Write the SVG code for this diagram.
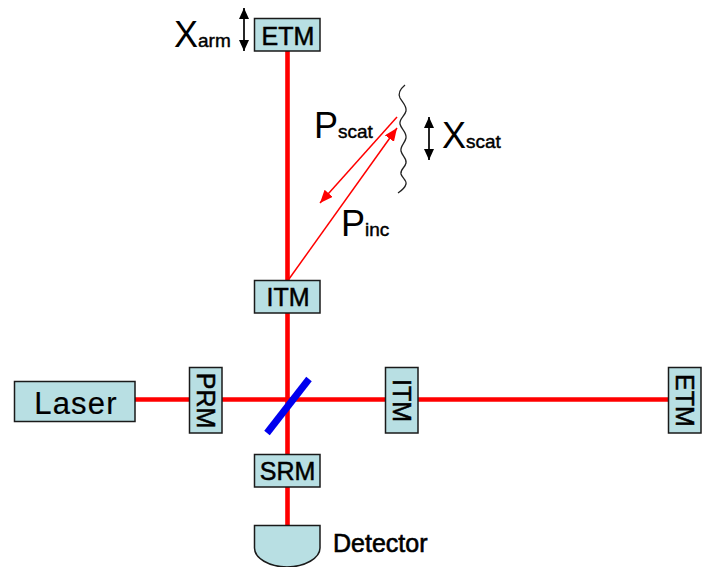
<svg xmlns="http://www.w3.org/2000/svg" width="709" height="567" viewBox="0 0 709 567">
<style>
.box{fill:#b8dfe3;stroke:#1a1a1a;stroke-width:1.5}
.t{font-family:"Liberation Sans",Arial,sans-serif;fill:#000;stroke:#000;stroke-width:.5;text-anchor:middle}
.m{font-size:25px}
.l{font-family:"Liberation Sans",Arial,sans-serif;fill:#000}
.s{font-size:19px;stroke:#000;stroke-width:.45}
.beam{stroke:#ff0000;stroke-width:4.6;fill:none}
.ray{stroke:#ff0000;stroke-width:1.5;fill:none}
.dbl{stroke:#000;stroke-width:1.7;fill:none;marker-start:url(#ka);marker-end:url(#ka)}
</style>
<defs>
<marker id="ra" markerUnits="userSpaceOnUse" markerWidth="14" markerHeight="12" refX="13" refY="5.500" orient="auto"><path d="M0 0L13 5.500L0 11Z" fill="#ff0000"/></marker>
<marker id="ka" markerUnits="userSpaceOnUse" markerWidth="12" markerHeight="12" refX="11" refY="5" orient="auto-start-reverse"><path d="M0 0L11 5L0 10Z" fill="#000"/></marker>
</defs>
<g id="connectors">
<path class="beam" d="M287.500 51V525"/>
<path class="beam" d="M135 399.500H668"/>
<path class="ray" d="M289 279L397 128" marker-end="url(#ra)"/>
<path class="ray" d="M397 117L320 203" marker-end="url(#ra)"/>
<path class="dbl" d="M244 8V51"/>
<path class="dbl" d="M429 117V160"/>
</g>
<g id="scatterer"><path d="M405 85C399 90 398 94 400 98C403 103 407 106 406 111C405 116 399 119 400 124C401 129 407 132 406 138C405 143 400 146 401 151C402 156 407 158 406 163C405 168 400 169 401 174C402 178 407 180 406 184C405 188 401 191 398 193" fill="none" stroke="#222" stroke-width="1.3"/></g>
<g id="beamsplitter"><path d="M267 433L309 379" stroke="#0000ee" stroke-width="7" fill="none"/></g>
<g id="etm-top"><rect class="box" x="254.500" y="18.500" width="65.500" height="32.500"/><text class="t m" x="288" y="44.500">ETM</text></g>
<g id="itm-top"><rect class="box" x="254.500" y="280.500" width="65.500" height="32.500"/><text class="t m" x="288" y="306">ITM</text></g>
<g id="laser"><rect class="box" x="14.500" y="381.500" width="120.500" height="40"/><text class="t" style="stroke-width:.2" font-size="31" letter-spacing="1.200" x="76" y="414">Laser</text></g>
<g id="prm"><rect class="box" x="189.500" y="367.500" width="32.500" height="65.500"/><text class="t m" transform="translate(197 400.500) rotate(90)">PRM</text></g>
<g id="itm-right"><rect class="box" x="385.500" y="367.500" width="32.500" height="65.500"/><text class="t m" transform="translate(393 400.500) rotate(90)">ITM</text></g>
<g id="etm-right"><rect class="box" x="668.500" y="367.500" width="32.500" height="65.500"/><text class="t m" transform="translate(676 400.500) rotate(90)">ETM</text></g>
<g id="srm"><rect class="box" x="254.500" y="454.500" width="65.500" height="32.500"/><text class="t m" x="287.500" y="480">SRM</text></g>
<g id="detector"><path class="box" d="M254.500 525.500H320V548C320 558 305 567 287 567C269 567 254.500 558 254.500 548Z"/><text class="l" font-size="25" stroke="#000" stroke-width=".6" x="333" y="552">Detector</text></g>
<g id="labels">
<text class="l" x="174" y="47" font-size="36">X<tspan class="s">arm</tspan></text>
<text class="l" x="314" y="138" font-size="36">P<tspan class="s">scat</tspan></text>
<text class="l" x="442" y="148" font-size="36">X<tspan class="s">scat</tspan></text>
<text class="l" x="341" y="236" font-size="36">P<tspan class="s">inc</tspan></text>
</g>
</svg>
